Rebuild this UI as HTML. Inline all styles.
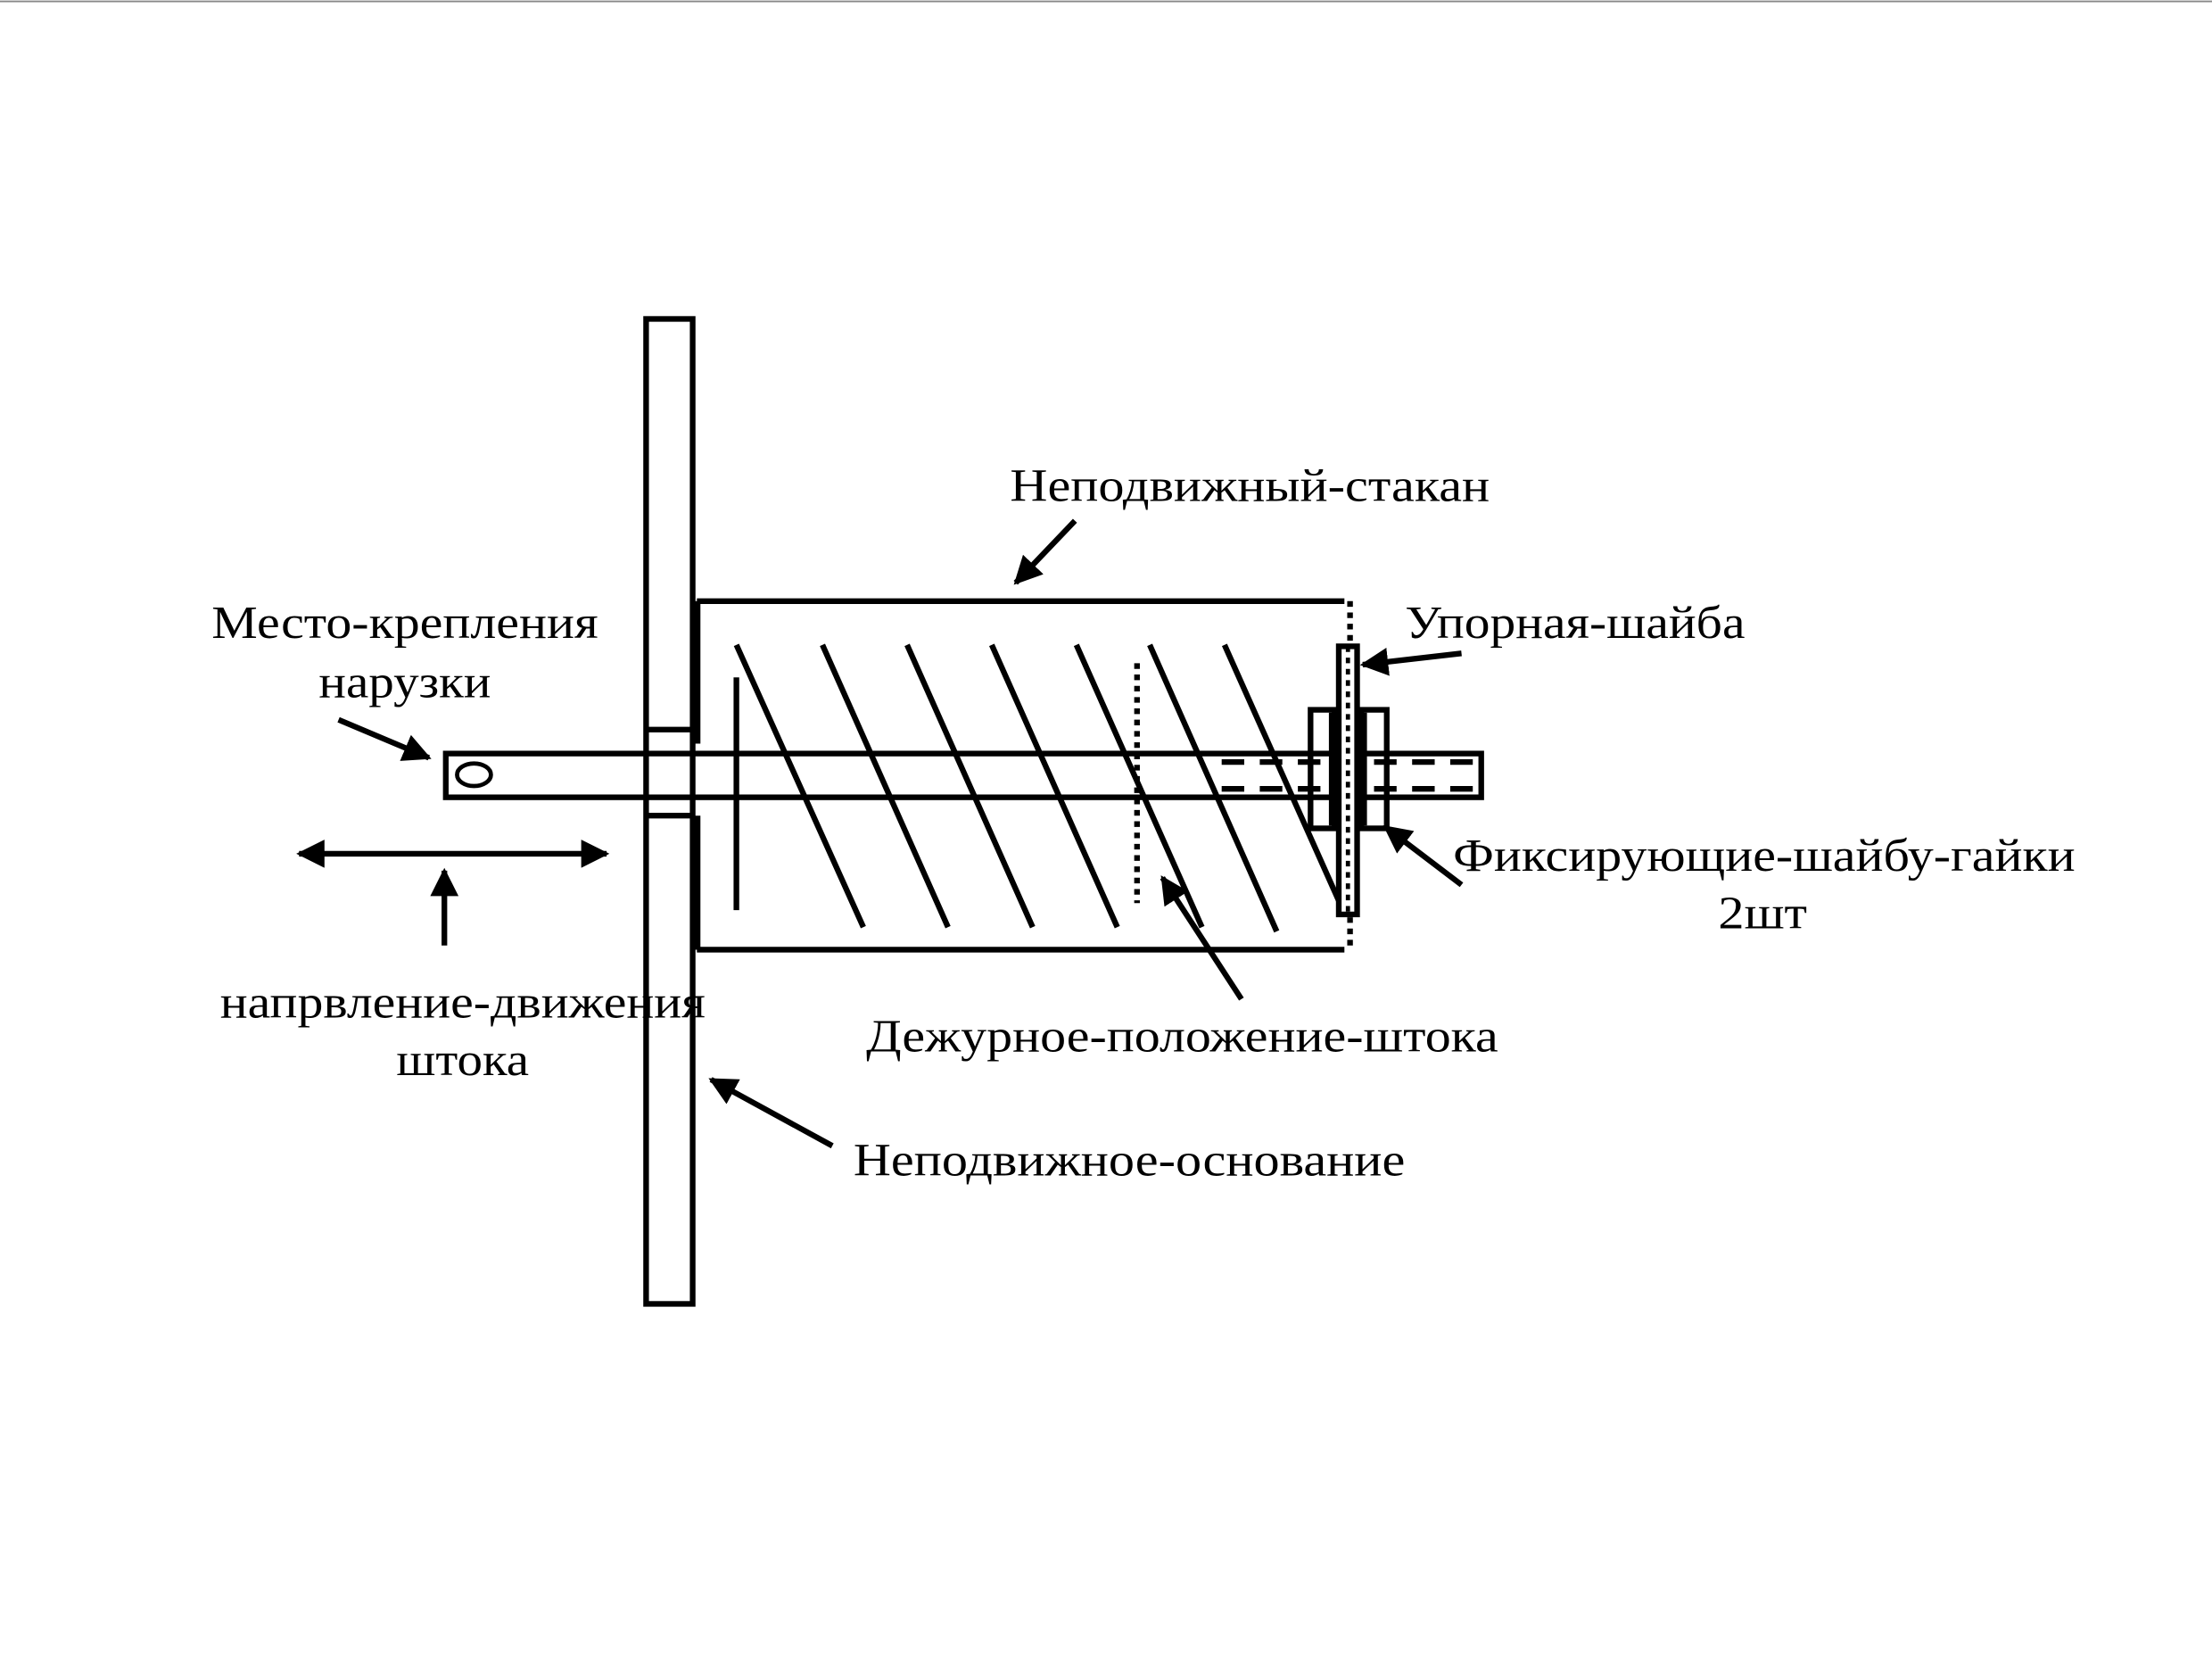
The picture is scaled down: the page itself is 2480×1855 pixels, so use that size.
<!DOCTYPE html>
<html><head><meta charset="utf-8"><style>html,body{margin:0;padding:0;background:#fff}svg{display:block}</style></head>
<body>
<svg width="2480" height="1855" viewBox="0 0 1568 1172.8" xmlns="http://www.w3.org/2000/svg">
<defs><marker id="a" viewBox="0 0 10 10" refX="9" refY="5" markerWidth="5" markerHeight="5" orient="auto-start-reverse"><path d="M0,0L10,5L0,10z" fill="#000"/></marker></defs>
<line x1="0" y1="1" x2="1568" y2="1" stroke="#888" stroke-width="1.2"/>
<g fill="none" stroke="#000" stroke-width="4">
<rect x="458" y="226" width="33" height="698"/>
<line x1="458" y1="517" x2="491" y2="517"/>
<line x1="458" y1="578" x2="491" y2="578"/>
<line x1="494" y1="426" x2="494" y2="527" stroke-width="5"/>
<line x1="494" y1="578" x2="494" y2="673" stroke-width="5"/>
<line x1="494" y1="426" x2="953" y2="426"/>
<line x1="494" y1="673" x2="953" y2="673"/>
<line x1="957" y1="426" x2="957" y2="673" stroke-dasharray="4,4"/>
<rect x="316" y="534" width="734" height="31"/>
<ellipse cx="336" cy="549" rx="12" ry="8" stroke-width="3"/>
<line x1="522" y1="480" x2="522" y2="645"/>
<line x1="522" y1="457" x2="612" y2="657"/>
<line x1="583" y1="457" x2="672" y2="657"/>
<line x1="643" y1="457" x2="732" y2="657"/>
<line x1="703" y1="457" x2="792" y2="657"/>
<line x1="763" y1="457" x2="852" y2="657"/>
<line x1="815" y1="457" x2="905" y2="660"/>
<line x1="868" y1="457" x2="952" y2="645"/>
<line x1="806" y1="470" x2="806" y2="640" stroke-dasharray="4,4"/>
<line x1="866" y1="540" x2="1045" y2="540" stroke-dasharray="16,11"/>
<line x1="866" y1="559" x2="1045" y2="559" stroke-dasharray="16,11"/>
<rect x="929" y="503" width="17" height="84"/>
<rect x="965" y="503" width="18" height="84"/>
<line x1="945" y1="505" x2="945" y2="585" stroke-width="6"/>
<line x1="966" y1="505" x2="966" y2="585" stroke-width="6"/>
<rect x="949" y="458" width="13" height="190" fill="#fff"/>
<line x1="955.5" y1="458" x2="955.5" y2="648" stroke-dasharray="4,4" stroke-width="3"/>
</g>
<g stroke="#000" stroke-width="4" marker-end="url(#a)" fill="none">
<line x1="762" y1="369" x2="720" y2="413"/>
<line x1="1036" y1="463" x2="966" y2="471"/>
<line x1="1036" y1="627" x2="982" y2="586"/>
<line x1="880" y1="708" x2="824" y2="622"/>
<line x1="240" y1="510" x2="304" y2="537"/>
<line x1="315" y1="670" x2="315" y2="617"/>
<line x1="590" y1="812" x2="504" y2="765"/>
<line x1="212" y1="605" x2="430" y2="605" marker-start="url(#a)"/>
</g>
<g font-family="Liberation Serif, serif" font-size="33" fill="#000">
<text x="716" y="355" textLength="340" lengthAdjust="spacingAndGlyphs">Неподвижный-стакан</text>
<text x="150" y="452" textLength="274" lengthAdjust="spacingAndGlyphs">Место-крепления</text>
<text x="226" y="494" textLength="122" lengthAdjust="spacingAndGlyphs">нарузки</text>
<text x="996" y="452" textLength="241" lengthAdjust="spacingAndGlyphs">Упорная-шайба</text>
<text x="1030" y="617" textLength="441" lengthAdjust="spacingAndGlyphs">Фиксирующие-шайбу-гайки</text>
<text x="1218" y="658" textLength="63" lengthAdjust="spacingAndGlyphs">2шт</text>
<text x="156" y="721" textLength="344" lengthAdjust="spacingAndGlyphs">напрвление-движения</text>
<text x="281" y="762" textLength="94" lengthAdjust="spacingAndGlyphs">штока</text>
<text x="614" y="745" textLength="448" lengthAdjust="spacingAndGlyphs">Дежурное-положение-штока</text>
<text x="605" y="833" textLength="391" lengthAdjust="spacingAndGlyphs">Неподвижное-основание</text>
</g>
</svg>
</body></html>
